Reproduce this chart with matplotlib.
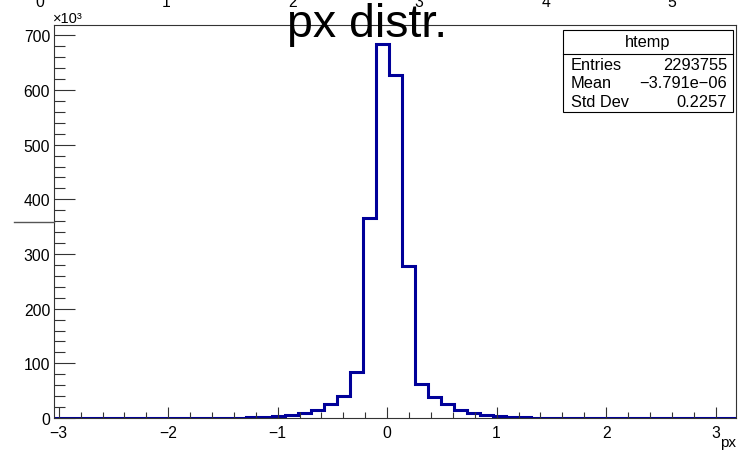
import numpy as np
import matplotlib
matplotlib.use("Agg")
import matplotlib.pyplot as plt
from matplotlib.patches import Rectangle
from matplotlib.lines import Line2D
from matplotlib.ticker import MultipleLocator

plt.rcParams['font.family'] = ['Liberation Sans', 'DejaVu Sans']

# htemp: px, 53 bins starting at -3.066, width 0.1185 (counts in units of 1e3)
bin_lo = -3.066
bin_w = 0.1185
counts = [0, 0, 0, 0, 0, 0, 0, 0, 0, 0,
          0, 0, 0, 0.5, 0.9, 1.4, 2, 3, 5, 9.5,
          15.5, 26, 40, 84, 366, 685, 627, 279, 62, 38,
          25, 15, 10, 6, 3.5, 2, 1.2, 0.7, 0, 0,
          0, 0, 0, 0, 0, 0, 0, 0, 0, 0,
          0, 0, 0]
stat_names = ['Entries', 'Mean', 'Std Dev']
stat_values = ['2293755', '\u22123.791e\u221206', '0.2257']
top_labels = ['0', '1', '2', '3', '4', '5']

W, H = 738, 452
fig = plt.figure(figsize=(W / 100, H / 100), dpi=100)
fig.patch.set_facecolor('white')

def fx(x):
    return x / W

def fy(y):
    return 1 - y / H

# frame: x from 54.3 to 736 px, y from 26 to 419 px
ax = fig.add_axes([fx(54.3), fy(419), fx(736) - fx(54.3), fy(26) - fy(419)])

edges = bin_lo + bin_w * np.arange(len(counts) + 1)
ax.stairs(counts, edges, color='#000099', linewidth=2.2)

ax.set_xlim(-3.041, 3.187)
ax.set_ylim(0, 719)
ax.xaxis.set_major_locator(MultipleLocator(1))
ax.xaxis.set_minor_locator(MultipleLocator(0.2))
ax.yaxis.set_major_locator(MultipleLocator(100))
ax.yaxis.set_minor_locator(MultipleLocator(20))
ax.tick_params(axis='both', which='both', direction='in', top=False, right=False,
               labelsize=11.3, color='#333333', width=0.8)
ax.tick_params(axis='x', which='major', length=8, pad=5)
ax.tick_params(axis='x', which='minor', length=4.3)
ax.tick_params(axis='y', which='major', length=15, pad=3)
ax.tick_params(axis='y', which='minor', length=8)
for s in ax.spines.values():
    s.set_linewidth(0.8)
    s.set_color('#333333')

# title and axis annotations
fig.text(fx(367), fy(37), 'px distr.', fontsize=33.5, ha='center', va='baseline')
fig.text(fx(53), fy(23), '\u00d710\u00b3', fontsize=10.5, ha='left', va='baseline')
fig.text(fx(736), fy(447), 'px', fontsize=11, ha='right', va='baseline')

# labels of the pad above, cut by the canvas edge
for i, lab in enumerate(top_labels):
    fig.text(fx(40 + 126.4 * i), fy(7), lab, fontsize=11.3, ha='center', va='baseline')

fig.add_artist(Line2D([fx(14), fx(54.3)], [fy(223), fy(223)], transform=fig.transFigure,
                      color='#555555', linewidth=1))

# stats box
bx0, bx1, by0, by1 = 563, 733, 31, 113
fig.add_artist(Rectangle((fx(bx0), fy(by1)), fx(bx1) - fx(bx0), fy(by0) - fy(by1),
                         transform=fig.transFigure, facecolor='white',
                         edgecolor='black', linewidth=0.8))
fig.add_artist(Line2D([fx(bx0), fx(bx1)], [fy(55), fy(55)], transform=fig.transFigure,
                      color='black', linewidth=0.8))
fig.text(fx(648), fy(43), 'htemp', fontsize=11.8, ha='center', va='center')
for i, (n, v) in enumerate(zip(stat_names, stat_values)):
    yy = fy(65 + 19 * i)
    fig.text(fx(571), yy, n, fontsize=11.8, ha='left', va='center')
    fig.text(fx(727), yy, v, fontsize=11.8, ha='right', va='center')

fig.savefig('out.png', dpi=100)
